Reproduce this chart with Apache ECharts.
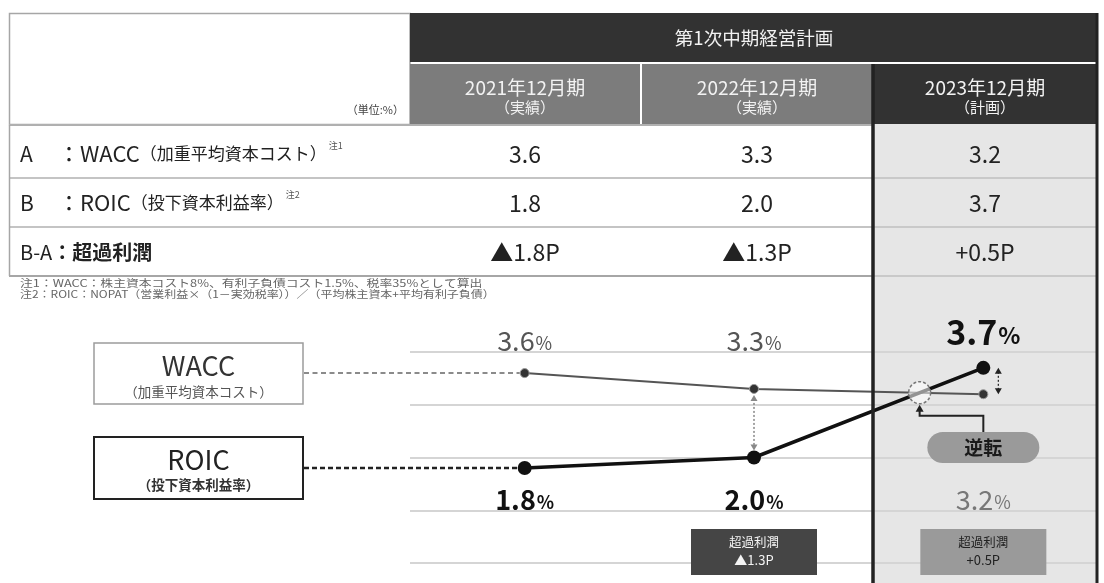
<!DOCTYPE html>
<html><head><meta charset="utf-8">
<script src="https://cdn.jsdelivr.net/npm/echarts@6/dist/echarts.min.js"></script>
<style>html,body{margin:0;padding:0;background:#fff}#c{width:1104px;height:583px}</style>
</head><body><div id="c"></div>
<script>
// ---- data ----
const planTitle = '第1次中期経営計画';
const categories = ['2021年12月期', '2022年12月期', '2023年12月期'];
const periodTypes = ['（実績）', '（実績）', '（計画）'];
const waccValues = [3.6, 3.3, 3.2];
const roicValues = [1.8, 2.0, 3.7];
const excessValues = [-1.8, -1.3, 0.5];
const yTickValues = [0, 1, 2, 3, 4];
const unitLabel = '（単位:%）';
const rowLabels = [
  { key: 'A', main: '：WACC', sub: '（加重平均資本コスト）', note: '注1' },
  { key: 'B', main: '：ROIC', sub: '（投下資本利益率）', note: '注2' }
];
const excessRowLabel = ['B-A', '：超過利潤'];
const footNotes = [
  '注1：WACC：株主資本コスト8%、有利子負債コスト1.5%、税率35%として算出',
  '注2：ROIC：NOPAT（営業利益×（1－実効税率））／（平均株主資本+平均有利子負債）'
];
const waccBox = ['WACC', '（加重平均資本コスト）'];
const roicBox = ['ROIC', '（投下資本利益率）'];
const reverseLabel = '逆転';
const excessBoxTitle = '超過利潤';

// ---- chart ----
const FONT = '"Noto Sans CJK JP", "Noto Sans", sans-serif';
const chart = echarts.init(document.getElementById('c'), null, { renderer: 'canvas' });
const fmt1 = v => v.toFixed(1);
const fmtExcess = v => (v < 0 ? '▲' : '+') + Math.abs(v).toFixed(1) + 'P';

chart.setOption({
  animation: false,
  grid: { left: 410, right: 6, top: 352, bottom: 20 },
  xAxis: { type: 'category', data: categories, boundaryGap: true, show: false },
  yAxis: {
    type: 'value', min: yTickValues[0], max: yTickValues[yTickValues.length - 1], interval: 1,
    axisLabel: { show: false }, axisLine: { show: false }, axisTick: { show: false },
    splitLine: { lineStyle: { color: '#d5d5d5', width: 2 } }
  },
  series: [
    { name: 'WACC', type: 'line', data: waccValues, z: 3,
      lineStyle: { color: '#555', width: 2 }, symbol: 'circle', symbolSize: 9,
      itemStyle: { color: '#333', borderColor: '#999', borderWidth: 1 } },
    { name: 'ROIC', type: 'line', data: roicValues, z: 4,
      lineStyle: { color: '#111', width: 3.5 }, symbol: 'circle', symbolSize: 14,
      itemStyle: { color: '#111' } }
  ]
});

const px = (i, v) => chart.convertToPixel({ gridIndex: 0 }, [i, v]);

function T(x, y, text, o) {
  o = o || {};
  const st = {
    text, fill: o.fill || '#222', fontSize: o.size || 14, fontFamily: FONT,
    fontWeight: o.weight || 'normal',
    align: o.align || 'center', verticalAlign: o.va || 'middle',
    textAlign: o.align || 'center', textVerticalAlign: o.va || 'middle'
  };
  if (o.rich) st.rich = o.rich;
  const el = { type: 'text', x, y, z: o.z == null ? 60 : o.z, silent: true, style: st };
  if (o.scaleX) el.scaleX = o.scaleX;
  return el;
}
function R(x, y, w, h, fill, stroke, lw, z, r) {
  return { type: 'rect', z: z == null ? 50 : z, silent: true,
    shape: { x, y, width: w, height: h, r: r || 0 },
    style: { fill: fill || null, stroke: stroke || null, lineWidth: lw || 0 } };
}
function L(x1, y1, x2, y2, stroke, lw, dash, z) {
  return { type: 'line', z: z == null ? 55 : z, silent: true,
    shape: { x1, y1, x2, y2 }, style: { stroke, lineWidth: lw, lineDash: dash || null } };
}
function P(points, fill, z) {
  return { type: 'polygon', z: z == null ? 70 : z, silent: true, shape: { points }, style: { fill } };
}
function rich(num, color, size, psize, weight) {
  return {
    text: '{n|' + num + '}{p|%}',
    rich: {
      n: { fontSize: size, fill: color, color, fontFamily: FONT, fontWeight: weight, verticalAlign: 'bottom' },
      p: { fontSize: psize, fill: color, color, fontFamily: FONT, fontWeight: weight, verticalAlign: 'bottom', padding: [0, 0, 2, 1] }
    }
  };
}

const els = [];
// column geometry (layout)
const colL = [410, 642, 873], colR = [640, 872, 1097];

// --- table header ---
els.push(R(9.5, 13.5, 400.5, 111, '#fff', '#a6a6a6', 1.5, 40));
els.push(T(404, 110, unitLabel, { size: 11, fill: '#444', align: 'right' }));
els.push(R(410, 13, 688, 49, '#323232', null, 0, 40));
els.push(T((410 + 1098) / 2, 38, planTitle, { size: 18.5, fill: '#f2f2f2' }));
const hdrFill = ['#7c7c7c', '#7c7c7c', '#323232'];
for (let i = 0; i < 3; i++) {
  els.push(R(colL[i], 64, (i === 2 ? 1098 : colR[i]) - colL[i], 60, hdrFill[i], null, 0, 40));
  const cx = (colL[i] + colR[i]) / 2;
  els.push(T(cx, 88, categories[i], { size: 19, fill: '#f2f2f2' }));
  els.push(T(cx, 107, periodTypes[i], { size: 15, fill: '#f2f2f2' }));
}

// --- table body ---
const rowTop = [125, 178, 227, 276];
els.push(R(873, 124, 224, 459, '#e6e6e6', null, 0, -1));
els.push(L(9, 125, 873, 125, '#b0b0b0', 2, null, 45));
for (let k = 1; k < 4; k++) {
  els.push(L(9, rowTop[k], 873, rowTop[k], k === 3 ? '#a6a6a6' : '#c4c4c4', 2, null, 45));
  els.push(L(873, rowTop[k], 1097, rowTop[k], '#c9c9c9', 2, null, 45));
}
els.push(L(9.5, 125, 9.5, 276, '#a6a6a6', 1.5, null, 45));
const rowMid = [154, 203, 252];
rowLabels.forEach((r, k) => {
  els.push(T(20, rowMid[k], r.key, { size: 21, align: 'left', fill: '#222' }));
  els.push(T(58, rowMid[k], '{m|' + r.main + '}{s|' + r.sub + '}{n|' + r.note + '}', {
    align: 'left', size: 21,
    rich: {
      m: { fontSize: 22, fill: '#222', color: '#222', fontFamily: FONT },
      s: { fontSize: 17, fill: '#222', color: '#222', fontFamily: FONT },
      n: { fontSize: 9, fill: '#555', color: '#555', fontFamily: FONT, verticalAlign: 'top', padding: [0, 0, 16, 2] }
    }
  }));
});
els.push(T(20, rowMid[2], '{a|' + excessRowLabel[0] + '}{b|' + excessRowLabel[1] + '}', {
  align: 'left',
  rich: {
    a: { fontSize: 20, fill: '#222', color: '#222', fontFamily: FONT },
    b: { fontSize: 20, fill: '#222', color: '#222', fontFamily: FONT, fontWeight: 'bold' }
  }
}));
for (let i = 0; i < 3; i++) {
  const cx = (colL[i] + colR[i]) / 2;
  els.push(T(cx, rowMid[0], fmt1(waccValues[i]), { size: 23, fill: '#222' }));
  els.push(T(cx, rowMid[1], fmt1(roicValues[i]), { size: 23, fill: '#222' }));
  els.push(T(cx, rowMid[2], fmtExcess(excessValues[i]), { size: 23, fill: '#222' }));
}
els.push(T(20, 283.5, footNotes[0], { size: 10.5, fill: '#666', align: 'left', scaleX: 1.22 }));
els.push(T(20, 294.5, footNotes[1], { size: 10.5, fill: '#666', align: 'left', scaleX: 1.14 }));

// column 3 black frame
els.push(L(873, 64, 873, 583, '#222', 3.5, null, 80));
els.push(L(1097, 13, 1097, 583, '#222', 3, null, 80));

// --- chart decorations ---
// legend boxes
els.push(R(94, 343, 209, 61, '#fff', '#9c9c9c', 1.5, 50));
els.push(T(198.5, 366, waccBox[0], { size: 27, fill: '#333' }));
els.push(T(198.5, 392, waccBox[1], { size: 13.5, fill: '#555' }));
els.push(R(94, 437, 209, 62, '#fff', '#222', 2, 50));
els.push(T(198.5, 460, roicBox[0], { size: 27, fill: '#222' }));
els.push(T(198.5, 485, roicBox[1], { size: 13.5, fill: '#333', weight: 'bold' }));
const w0 = px(0, waccValues[0]), r0 = px(0, roicValues[0]);
els.push(L(304, w0[1], w0[0] - 5, w0[1], '#666', 1.5, [5, 3.5], 55));
els.push(L(304, r0[1], r0[0] - 6, r0[1], '#222', 2.5, [5, 3], 55));

// value labels (upper / lower)
for (let i = 0; i < 3; i++) {
  const x = px(i, 0)[0];
  const roicTop = roicValues[i] > waccValues[i];
  const wr = rich(fmt1(waccValues[i]), roicTop ? '#777' : '#555', 27, 18, 'normal');
  const rr = roicTop ? rich(fmt1(roicValues[i]), '#111', 34, 23, 'bold')
                     : rich(fmt1(roicValues[i]), '#111', 27, 18, 'bold');
  const topR = roicTop ? rr : wr, botR = roicTop ? wr : rr;
  els.push({ type: 'text', x, y: roicTop ? 349 : 354, z: 60, silent: true,
    style: Object.assign({ align: 'center', verticalAlign: 'bottom', textAlign: 'center', textVerticalAlign: 'bottom' }, topR) });
  els.push({ type: 'text', x, y: 513, z: 60, silent: true,
    style: Object.assign({ align: 'center', verticalAlign: 'bottom', textAlign: 'center', textVerticalAlign: 'bottom' }, botR) });
}

// dotted double arrow at 2022
{
  const a = px(1, waccValues[1]), b = px(1, roicValues[1]);
  const x = a[0];
  els.push(L(x, a[1] + 10, x, b[1] - 11, '#888', 1.5, [2, 2], 70));
  els.push(P([[x - 3.5, a[1] + 12], [x + 3.5, a[1] + 12], [x, a[1] + 6]], '#888'));
  els.push(P([[x - 3.5, b[1] - 13], [x + 3.5, b[1] - 13], [x, b[1] - 7]], '#888'));
}
// small double arrow at 2023
{
  const a = px(2, roicValues[2]), b = px(2, waccValues[2]);
  const x = a[0] + 15;
  els.push(L(x, a[1] + 4, x, b[1] - 4, '#222', 1.2, [2, 2], 70));
  els.push(P([[x - 3.5, a[1] + 6], [x + 3.5, a[1] + 6], [x, a[1]]], '#222'));
  els.push(P([[x - 3.5, b[1] - 6], [x + 3.5, b[1] - 6], [x, b[1]]], '#222'));
}
// crossing point (from data)
{
  const t = (waccValues[1] - roicValues[1]) / ((roicValues[2] - roicValues[1]) - (waccValues[2] - waccValues[1]));
  const p1 = px(1, waccValues[1] + t * (waccValues[2] - waccValues[1]));
  const p2 = px(2, 0);
  const ix = p1[0] + t * (p2[0] - p1[0]), iy = p1[1];
  els.push({ type: 'circle', z: 70, silent: true, shape: { cx: ix, cy: iy, r: 11 },
    style: { fill: 'rgba(255,255,255,0.55)', stroke: '#777', lineWidth: 1.5, lineDash: [3, 2] } });
  const cx = p2[0];
  const pillTop = 432;
  els.push({ type: 'polyline', z: 70, silent: true,
    shape: { points: [[ix, iy + 16], [ix, iy + 23], [cx, iy + 23], [cx, pillTop]] },
    style: { stroke: '#222', lineWidth: 2, fill: null } });
  els.push(P([[ix - 4, iy + 19], [ix + 4, iy + 19], [ix, iy + 12]], '#222'));
  els.push(R(cx - 56, pillTop, 112, 31, '#9a9a9a', null, 0, 70, 15.5));
  els.push(T(cx, pillTop + 15.5, reverseLabel, { size: 19, weight: 'bold', fill: '#1a1a1a', z: 75 }));
}
// excess profit boxes
for (let i = 1; i < 3; i++) {
  const x = px(i, 0)[0];
  const pos = excessValues[i] >= 0;
  const fill = pos ? '#9a9a9a' : '#454545', tc = pos ? '#222' : '#f4f4f4';
  els.push(R(x - 63, 529, 126, 46, fill, null, 0, 70));
  els.push(T(x, 542, excessBoxTitle, { size: 12.5, fill: tc, z: 75 }));
  els.push(T(x, 560, fmtExcess(excessValues[i]), { size: 13, fill: tc, z: 75 }));
}

chart.setOption({ graphic: { elements: els } });
</script></body></html>
